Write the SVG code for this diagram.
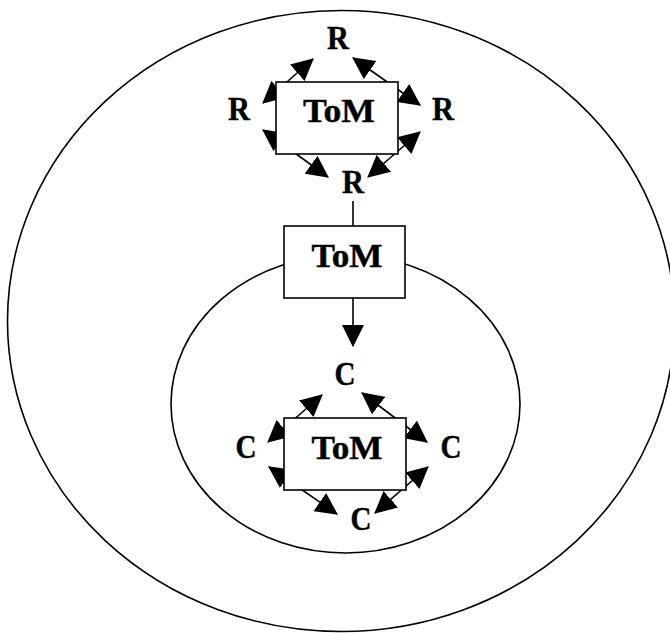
<svg xmlns="http://www.w3.org/2000/svg" width="670" height="633" viewBox="0 0 670 633">
  <style>
    .ring { fill: none; stroke: #000; stroke-width: 1.6; }
    .box { fill: #fff; stroke: #000; stroke-width: 1.6; }
    .link { fill: none; stroke: #000; stroke-width: 1.6; }
    .lbl { font-family: "Liberation Serif", "Times New Roman", serif; font-weight: bold; font-size: 34px; fill: #000; stroke: #000; stroke-width: 0.4; text-anchor: middle; }
  </style>
  <defs>
    <marker id="head" viewBox="0 0 20 20" refX="19" refY="10" markerWidth="22" markerHeight="22" markerUnits="userSpaceOnUse" orient="auto-start-reverse">
      <path d="M0,0 L20,10 L0,20 Z" fill="#000"/>
    </marker>
  </defs>
  <rect width="670" height="633" fill="#fff"/>

  <!-- enclosing rings -->
  <ellipse class="ring" cx="341" cy="321" rx="333.5" ry="310.5"/>
  <ellipse class="ring" cx="345.5" cy="404" rx="174.5" ry="149"/>

  <!-- connectors -->
  <g id="connectors">
    <!-- upper diamond of R links -->
    <line class="link" x1="263" y1="103" x2="313" y2="59" marker-start="url(#head)" marker-end="url(#head)"/>
    <line class="link" x1="353" y1="58" x2="420" y2="105" marker-start="url(#head)" marker-end="url(#head)"/>
    <line class="link" x1="420" y1="132" x2="368" y2="177" marker-start="url(#head)" marker-end="url(#head)"/>
    <line class="link" x1="328" y1="177" x2="263" y2="130" marker-start="url(#head)" marker-end="url(#head)"/>
    <!-- trunk through middle box -->
    <line class="link" x1="353" y1="201" x2="353" y2="226"/>
    <line class="link" x1="353" y1="298" x2="353" y2="346" marker-end="url(#head)"/>
    <!-- lower diamond of C links -->
    <line class="link" x1="268" y1="442" x2="322" y2="395" marker-start="url(#head)" marker-end="url(#head)"/>
    <line class="link" x1="362" y1="393" x2="427" y2="442" marker-start="url(#head)" marker-end="url(#head)"/>
    <line class="link" x1="428" y1="467" x2="375" y2="513" marker-start="url(#head)" marker-end="url(#head)"/>
    <line class="link" x1="337" y1="514" x2="269" y2="467" marker-start="url(#head)" marker-end="url(#head)"/>
  </g>

  <!-- ToM boxes -->
  <g id="tom-top">
    <rect class="box" x="276" y="82" width="122" height="72"/>
    <text class="lbl" x="339" y="122" textLength="72" lengthAdjust="spacingAndGlyphs">ToM</text>
  </g>
  <g id="tom-middle">
    <rect class="box" x="284" y="226" width="121" height="72"/>
    <text class="lbl" x="347" y="267" textLength="71" lengthAdjust="spacingAndGlyphs">ToM</text>
  </g>
  <g id="tom-bottom">
    <rect class="box" x="284" y="418" width="122" height="72"/>
    <text class="lbl" x="347" y="459" textLength="71" lengthAdjust="spacingAndGlyphs">ToM</text>
  </g>

  <!-- R labels -->
  <g id="r-top"><text class="lbl" x="338" y="49" textLength="22" lengthAdjust="spacingAndGlyphs">R</text></g>
  <g id="r-left"><text class="lbl" x="239" y="120" textLength="22" lengthAdjust="spacingAndGlyphs">R</text></g>
  <g id="r-right"><text class="lbl" x="443" y="120" textLength="22" lengthAdjust="spacingAndGlyphs">R</text></g>
  <g id="r-bottom"><text class="lbl" x="353" y="193" textLength="22" lengthAdjust="spacingAndGlyphs">R</text></g>

  <!-- C labels -->
  <g id="c-top"><text class="lbl" x="345" y="385" textLength="21" lengthAdjust="spacingAndGlyphs">C</text></g>
  <g id="c-left"><text class="lbl" x="246" y="458" textLength="21" lengthAdjust="spacingAndGlyphs">C</text></g>
  <g id="c-right"><text class="lbl" x="451" y="458" textLength="21" lengthAdjust="spacingAndGlyphs">C</text></g>
  <g id="c-bottom"><text class="lbl" x="361" y="530" textLength="21" lengthAdjust="spacingAndGlyphs">C</text></g>
</svg>
